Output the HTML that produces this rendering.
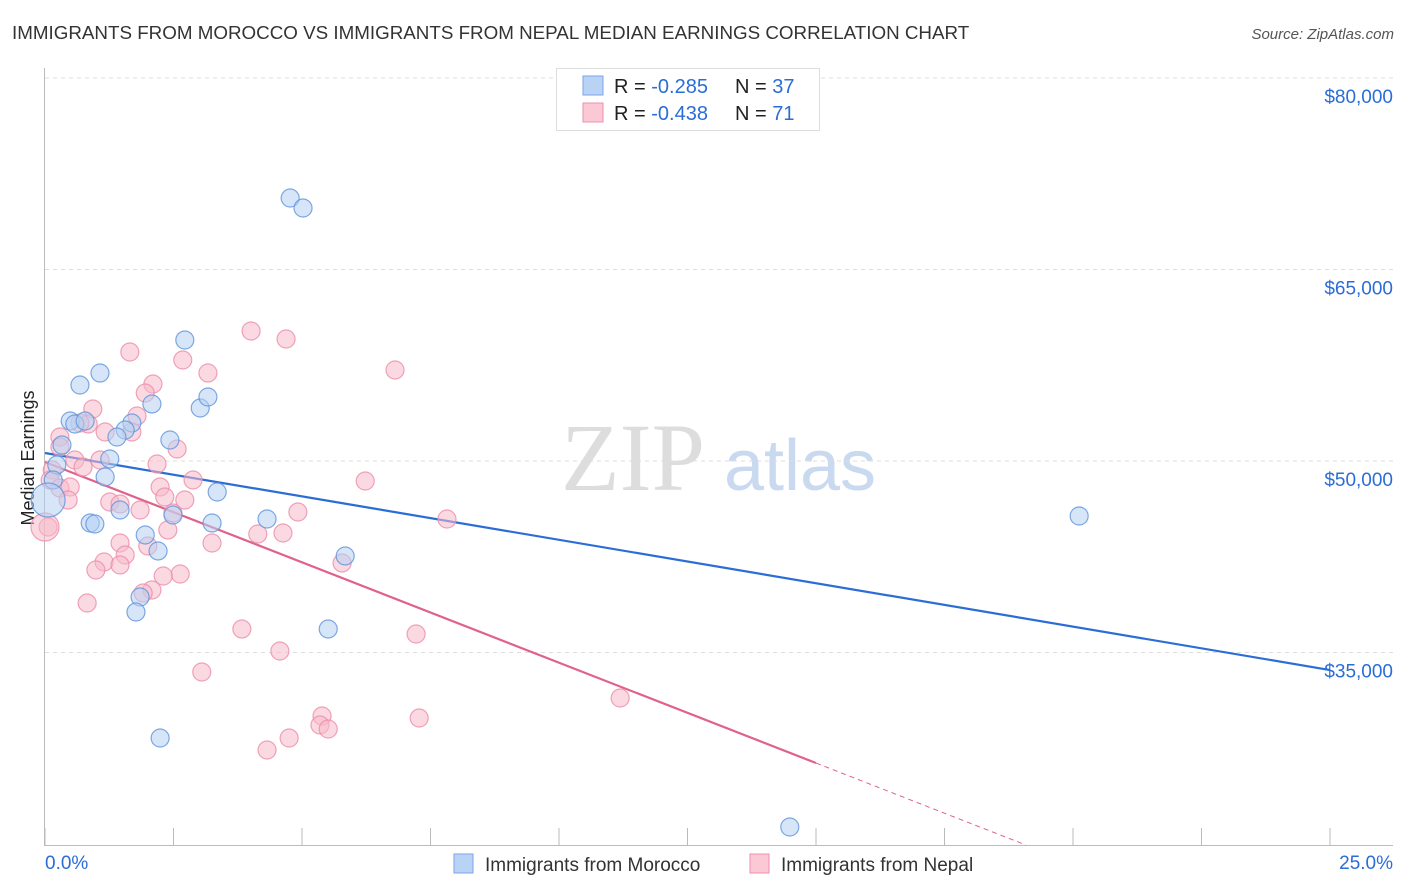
<!DOCTYPE html>
<html><head><meta charset="utf-8"><style>
body{margin:0;background:#fff;font-family:"Liberation Sans",sans-serif;}
svg{display:block}
</style></head><body>
<svg id="chart" width="1406" height="892" viewBox="0 0 1406 892">
<text x="12" y="39" font-size="18.8" fill="#333">IMMIGRANTS FROM MOROCCO VS IMMIGRANTS FROM NEPAL MEDIAN EARNINGS CORRELATION CHART</text>
<text x="1394" y="39" font-size="15" fill="#555" font-style="italic" text-anchor="end">Source: ZipAtlas.com</text>
<text x="34" y="458" font-size="18" fill="#222" text-anchor="middle" transform="rotate(-90 34 458)">Median Earnings</text>
<g>
<text x="633" y="490" font-size="96" fill="#ddd" font-family="Liberation Serif,serif" text-anchor="middle">ZIP</text>
<text x="800" y="490" font-size="72" fill="#c9d9ef" text-anchor="middle">atlas</text>
</g>
<g id="grid"></g><g id="axes"></g><g id="lines"></g><g id="points"></g>
<g>
<rect x="556.5" y="68.5" width="263" height="62" fill="#fff" stroke="#ddd"/>
<rect x="583" y="76" width="20" height="19" fill="#b9d3f5" stroke="#7aa6e6"/>
<rect x="583" y="103" width="20" height="19" fill="#fbc8d6" stroke="#ee8fab"/>
<text x="614" y="93" font-size="20" fill="#222">R = <tspan fill="#2b6dd6">-0.285</tspan><tspan x="735">N = </tspan><tspan fill="#2b6dd6">37</tspan></text>
<text x="614" y="120" font-size="20" fill="#222">R = <tspan fill="#2b6dd6">-0.438</tspan><tspan x="735">N = </tspan><tspan fill="#2b6dd6"> 71</tspan></text>
</g>
<g>
<rect x="454" y="854" width="19" height="19" fill="#b9d3f5" stroke="#7aa6e6"/>
<text x="485" y="871" font-size="19" fill="#333">Immigrants from Morocco</text>
<rect x="750" y="854" width="19" height="19" fill="#fbc8d6" stroke="#ee8fab"/>
<text x="781" y="871" font-size="19" fill="#333">Immigrants from Nepal</text>
</g>
</svg>
<script>
const yTicks=[35000,50000,65000,80000];
const yTickLabels=["$35,000","$50,000","$65,000","$80,000"];
const xTickLabels=["0.0%","25.0%"];
const moroccoX=[4.77,5.02,2.72,0.68,1.07,2.08,3.02,3.17,0.49,0.58,0.78,1.69,1.56,1.40,2.43,0.33,1.26,0.23,1.17,3.35,0.16,0.06,0.88,0.97,1.46,2.49,3.25,4.32,1.95,2.20,5.84,1.85,1.77,5.51,2.24,14.49,20.12];
const moroccoY=[70600,69817,59477,55952,56893,54465,54151,55013,53133,52898,53133,52976,52428,51880,51645,51253,50157,49687,48747,47571,48511,46945,45143,45065,46162,45770,45143,45457,44204,42951,42559,39347,38172,36840,28302,21330,45692];
const moroccoSize=[9,9,9,9,9,9,9,9,9,9,9,9,9,9,9,9,9,9,9,9,9,17,9,9,9,9,9,9,9,9,9,9,9,9,9,9,9];
const nepalX=[4.01,4.69,1.65,2.68,6.81,3.17,2.10,1.95,0.93,1.79,0.29,0.84,0.68,1.17,1.69,0.29,2.57,0.58,0.74,2.18,1.07,0.14,0.10,0.29,0.49,0.45,2.24,6.23,2.88,2.33,1.26,1.46,1.85,2.49,2.72,4.92,7.82,2.39,4.14,4.63,3.25,1.46,2.00,0.06,1.56,1.15,0.99,1.46,2.63,2.30,5.78,2.08,1.91,0.82,3.83,7.22,4.57,3.05,11.19,5.39,5.35,5.51,7.28,4.75,4.32,0.00];
const nepalY=[60182,59555,58537,57911,57128,56893,56031,55326,54073,53525,51880,52898,52976,52271,52271,51097,50940,50078,49530,49765,50078,49295,48511,47884,47962,46945,47962,48433,48511,47180,46788,46632,46162,45927,46945,46005,45457,44596,44282,44360,43576,43576,43341,44831,42637,42089,41462,41853,41148,40992,42011,39895,39660,38877,36840,36448,35116,33471,31435,30025,29320,29007,29869,28302,27362,44831];
const trendMorocco=[50627,-680];
const trendNepal=[49922,-1572];
const nepalSolidEnd=15;

const X0=45,X1=1330,XMAX=25;
function xs(v){return X0+(X1-X0)*v/XMAX;}
function ys(v){return 78+(80000-v)*191.5/15000;}
const NS="http://www.w3.org/2000/svg";
function mk(parent,tag,attrs){const e=document.createElementNS(NS,tag);for(const k in attrs)e.setAttribute(k,attrs[k]);document.getElementById(parent).appendChild(e);return e;}

yTicks.forEach((t,i)=>{
  const g=mk('grid','line',{x1:45,x2:1393,y1:ys(t),y2:ys(t),stroke:'#ddd','stroke-dasharray':'4,4'});
  
  
  const l=mk('grid','text',{x:1393,y:ys(t)+25,'font-size':19,fill:'#2b6dd6','text-anchor':'end'});
  l.textContent=yTickLabels[i];
  
  
});
const ax=mk('axes','line',{x1:44.5,x2:44.5,y1:68,y2:845,stroke:'#bbb'});


const bx=mk('axes','line',{x1:44,x2:1393,y1:845.5,y2:845.5,stroke:'#bbb'});


for(let i=0;i<=10;i++){
  const t=mk('axes','line',{x1:xs(i*2.5),x2:xs(i*2.5),y1:828,y2:845,stroke:'#bbb'});
  
  
}
[[0,'start',45],[25,'end',1393]].forEach((d,i)=>{
  const l=mk('axes','text',{x:d[2],y:869,'font-size':19,fill:'#2b6dd6','text-anchor':d[1]});
  l.textContent=xTickLabels[i];
  
  
});

function drawPts(X,Y,S,fill,stroke,name){
  X.forEach((x,i)=>{
    const c=mk('points','circle',{cx:xs(x),cy:ys(Y[i]),r:S?S[i]:9,fill:fill,'fill-opacity':0.55,stroke:stroke,'stroke-opacity':0.8,'stroke-width':1.2});
    
    
  });
}
drawPts(nepalX,nepalY,nepalX.map((x,i)=>i===nepalX.length-1?14:9),'#f8b9cb','#ec8ca8','nepal-point');
drawPts(moroccoX,moroccoY,moroccoSize,'#b5cff2','#5f93dc','morocco-point');

const lm=mk('lines','line',{x1:xs(0),y1:ys(trendMorocco[0]),x2:xs(25),y2:ys(trendMorocco[0]+trendMorocco[1]*25),stroke:'#2b6dd6','stroke-width':2.2});


const ln=mk('lines','line',{x1:xs(0),y1:ys(trendNepal[0]),x2:xs(nepalSolidEnd),y2:ys(trendNepal[0]+trendNepal[1]*nepalSolidEnd),stroke:'#e0628c','stroke-width':2.2});


const xEnd=(19920-trendNepal[0])/trendNepal[1];
const ld=mk('lines','line',{x1:xs(nepalSolidEnd),y1:ys(trendNepal[0]+trendNepal[1]*nepalSolidEnd),x2:xs(xEnd),y2:ys(trendNepal[0]+trendNepal[1]*xEnd),stroke:'#e0628c','stroke-width':1,'stroke-dasharray':'5,4'});


</script>
</body></html>
